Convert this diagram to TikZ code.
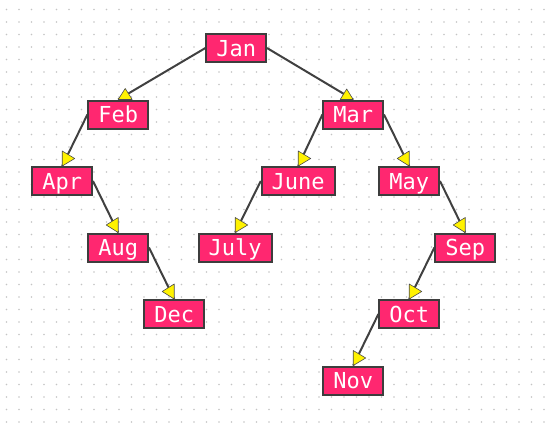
\documentclass[tikz,border=0pt]{standalone}
\usepackage{fontspec}
\setmonofont{DejaVu Sans Mono}
\usepackage{tikz}
\usetikzlibrary{positioning}
\usepackage{xcolor}
\definecolor{boxpink}{HTML}{FF2770}
\definecolor{boxedge}{HTML}{3D3D3D}
\definecolor{linegray}{HTML}{404040}
\definecolor{dotgray}{HTML}{C4C4C4}

\begin{document}
\begin{tikzpicture}[node distance=66.5pt and 56pt,on grid,
    month/.style={draw=boxedge,line width=2pt,fill=boxpink,text=white,
        font=\ttfamily\fontsize{22}{22}\selectfont,
        inner xsep=9.9pt,inner ysep=2pt,text height=16pt,text depth=0pt,
        minimum height=28pt},
    link/.style={draw=linegray,line width=2pt},
    arrowtri/.style={fill=yellow,draw=black!70,line width=0.6pt,line join=round}]
    \useasboundingbox (0,0) rectangle (545pt,-423pt);
    % dotted paper
    \foreach \i in {0,...,43}
        \foreach \j in {0,...,33}
            \fill[dotgray] (6.5pt+12.5pt*\i,-9.5pt-12.5pt*\j) circle (0.8pt);

    \node[month] (Jan) at (236.2pt,-48pt) {Jan};
    \node[month] (Feb) [below left=66.5pt and 118pt of Jan] {Feb};
    \node[month] (Mar) [below right=66.5pt and 117pt of Jan] {Mar};
    \node[month] (Apr) [below left=of Feb] {Apr};
    \node[month] (Aug) [below right=of Apr] {Aug};
    \node[month] (Dec) [below right=of Aug] {Dec};
    \node[month] (June) [below left=66.5pt and 55pt of Mar] {June};
    \node[month] (July) [below left=66.5pt and 63pt of June] {July};
    \node[month] (May) [below right=of Mar] {May};
    \node[month] (Sep) [below right=of May] {Sep};
    \node[month] (Oct) [below left=of Sep] {Oct};
    \node[month] (Nov) [below left=of Oct] {Nov};

    \foreach \a/\b in {Jan/Feb,Feb/Apr,Mar/June,June/July,Sep/Oct,Oct/Nov}
        \draw[link] (\a.west) -- (\b.north);
    \foreach \a/\b in {Jan/Mar,Apr/Aug,Aug/Dec,Mar/May,May/Sep}
        \draw[link] (\a.east) -- (\b.north);

    % yellow heads
    \foreach \n in {Apr,June,July,Oct,Nov}
        \filldraw[arrowtri] (\n.north) -- ++(0,15pt) -- ++(12.5pt,-7.5pt) -- cycle;
    \foreach \n in {Aug,Dec,May,Sep}
        \filldraw[arrowtri] (\n.north) -- ++(0,15pt) -- ++(-12pt,-7.5pt) -- cycle;
    \filldraw[arrowtri] (Feb.north) -- ++(14pt,0) -- ++(-7pt,11pt) -- cycle;
    \filldraw[arrowtri] (Mar.north) -- ++(-13pt,0) -- ++(6.5pt,10.5pt) -- cycle;
\end{tikzpicture}
\end{document}
